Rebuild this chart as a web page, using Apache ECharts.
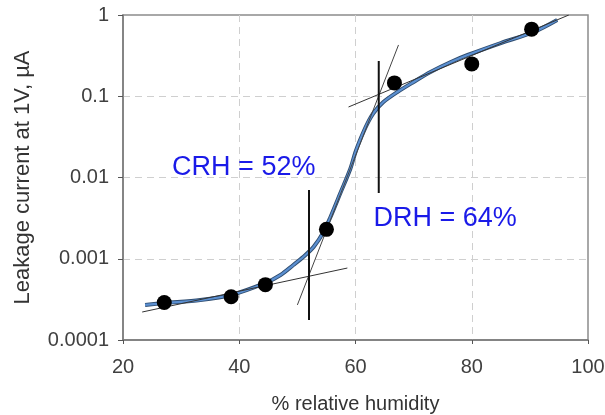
<!DOCTYPE html>
<html>
<head>
<meta charset="utf-8">
<script src="https://cdn.jsdelivr.net/npm/echarts@6/dist/echarts.min.js"></script>
<style>html,body{margin:0;padding:0;background:#fff}#c{width:605px;height:415px}</style>
</head>
<body>
<div id="c"></div>
<script>
// measured data points
var rhPoints = [27.1, 38.6, 44.5, 55.0, 66.7, 80.0, 90.3];
var currentPoints = [0.00029, 0.00034, 0.00048, 0.0023, 0.146, 0.25, 0.67];
// fitted curve
var fitX = [23.8, 27.2, 33.3, 38.6, 44.5, 47.1, 49.3, 51.0, 52.8, 54.5, 55.7, 57.4, 59.1, 60.0, 61.0, 62.0, 63.1, 64.8, 67.2, 70.0, 72.9, 76.4, 79.3, 85.0, 90.7, 94.7];
var fitY = [0.000270, 0.000285, 0.000310, 0.000358, 0.000504, 0.000631, 0.000837, 0.00105, 0.00140, 0.00213, 0.00327, 0.00644, 0.01273, 0.0206, 0.0315, 0.0455, 0.0622, 0.0849, 0.1127, 0.150, 0.199, 0.264, 0.322, 0.452, 0.618, 0.867];
// tangent lines
var baseLineX = [23.3, 58.6], baseLineY = [0.000221, 0.000769];
var steepLineX = [50.0, 67.4], steepLineY = [0.00027, 0.428];
var upperLineX = [58.8, 96.7], upperLineY = [0.0738, 1.0];
// markers for CRH / DRH
var crhX = 52, crhY = [0.000176, 0.00702];
var drhX = 64, drhY = [0.00644, 0.2716];
var crhLabel = 'CRH = 52%', drhLabel = 'DRH = 64%';
var crhLabelPos = [28.45, 0.01327], drhLabelPos = [63.1, 0.00309];
var xTicks = [20, 40, 60, 80, 100];
var yTicks = ['0.0001', '0.001', '0.01', '0.1', '1'];

function zip(a, b) { return a.map(function (v, i) { return [v, b[i]]; }); }

var chart = echarts.init(document.getElementById('c'), null, {renderer: 'canvas'});
var font = 'Liberation Sans, Arial, sans-serif';
var blackLine = function (xs, ys, w, c) {
  return {type: 'line', data: zip(xs, ys), symbol: 'none', silent: true,
    lineStyle: {color: c, width: w}, z: 4, animation: false};
};
chart.setOption({
  animation: false,
  grid: {left: 123, right: 17, top: 15, bottom: 75, show: true, borderColor: '#8c8c8c', borderWidth: 1.5,
    containLabel: false, outerBoundsMode: 'none'},
  xAxis: {
    type: 'value', min: xTicks[0], max: xTicks[xTicks.length - 1], interval: 20,
    name: '% relative humidity', nameLocation: 'middle', nameGap: 54,
    nameTextStyle: {color: '#333', fontSize: 20, fontFamily: font},
    axisLine: {lineStyle: {color: '#7a7a7a', width: 1.5}},
    axisTick: {show: true, inside: false, length: 4, lineStyle: {color: '#555'}},
    axisLabel: {color: '#404040', fontSize: 20, fontFamily: font, margin: 17,
      formatter: function (v) { return String(v); }},
    splitLine: {show: true, showMinLine: false, showMaxLine: false, lineStyle: {color: '#cfcfcf', type: [7, 5], width: 1}}
  },
  yAxis: {
    type: 'log', logBase: 10, min: 0.0001, max: 1,
    name: 'Leakage current at 1V, \u00b5A', nameLocation: 'middle', nameGap: 89,
    nameTextStyle: {color: '#333', fontSize: 22, fontFamily: font},
    axisLine: {show: true, lineStyle: {color: '#7a7a7a', width: 1.5}},
    axisTick: {show: true, inside: false, length: 5, lineStyle: {color: '#555'}},
    minorTick: {show: false},
    axisLabel: {color: '#404040', fontSize: 20, fontFamily: font, margin: 14,
      formatter: function (v) {
        var e = Math.round(Math.log10(v));
        return yTicks[e + 4];
      }},
    splitLine: {show: true, showMinLine: false, showMaxLine: false, lineStyle: {color: '#cfcfcf', type: [7, 5], width: 1}}
  },
  series: [
    {type: 'line', data: zip(fitX, fitY), smooth: 0.3, symbol: 'none', silent: true,
      lineStyle: {color: '#2f4d70', width: 4}, z: 2},
    {type: 'line', data: zip(fitX, fitY), smooth: 0.3, symbol: 'none', silent: true,
      lineStyle: {color: '#5b8fd0', width: 2.2}, z: 3},
    blackLine(baseLineX, baseLineY, 1, '#333'),
    blackLine(steepLineX, steepLineY, 1, '#444'),
    blackLine(upperLineX, upperLineY, 1, '#333'),
    blackLine([crhX, crhX], crhY, 2, '#111'),
    blackLine([drhX, drhX], drhY, 2, '#111'),
    {type: 'scatter', data: zip(rhPoints, currentPoints), symbol: 'circle', symbolSize: 15,
      itemStyle: {color: '#000', opacity: 1}, z: 6},
    {type: 'scatter', symbolSize: 0, silent: true, z: 7, itemStyle: {opacity: 1},
      data: [{value: crhLabelPos, name: crhLabel}, {value: drhLabelPos, name: drhLabel}],
      label: {show: true, position: 'right', distance: 0, formatter: '{b}',
        color: '#1a1ae8', opacity: 1, fontSize: 27, fontFamily: font}}
  ]
});
</script>
</body>
</html>
